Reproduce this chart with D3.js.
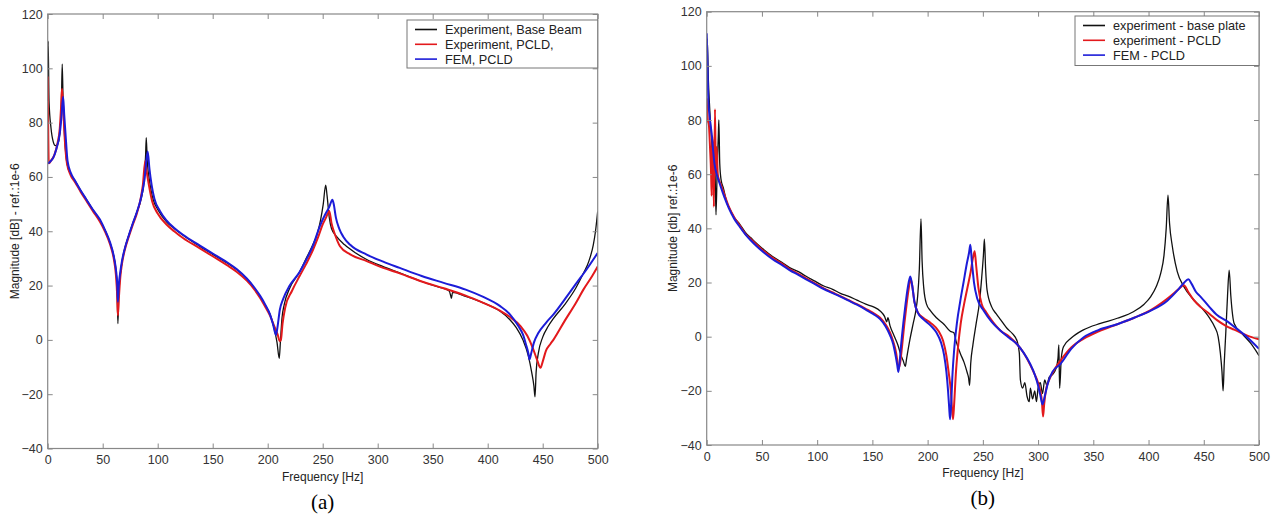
<!DOCTYPE html>
<html>
<head>
<meta charset="utf-8">
<script src="https://cdn.jsdelivr.net/npm/d3@7"></script>
<style>
  body { margin: 0; background: #fff; }
  svg text { font-family: "Liberation Sans", Arial, sans-serif; }
</style>
</head>
<body>
<svg id="chart" width="1282" height="517"></svg>
<script>
// panel (a): beam, [frequency Hz, magnitude dB]
const beamBase = [[0,88],[0.4,110],[1.2,88],[3,78],[5,73],[7,71.5],[9,72],[11,76],[12.5,88],[13.2,101.5],[14,88],[15.5,74],[17.5,65],[21,61],[25,58.5],[30,55],[35,51.8],[41,48],[47.5,44],[52,40.5],[56.6,35.8],[60,31],[62,26],[63,20],[63.8,6],[64.6,16],[66,24],[67.5,28.5],[70,33.5],[73.3,38],[77,42.5],[81,47],[85,52],[87.5,58],[89,68],[89.6,74.5],[90.5,66],[92,60],[94,55],[96,51.5],[100,48],[108,43.5],[115,41],[123,38.5],[138,34.5],[150,31.5],[163,28.3],[172,25.8],[181,22.5],[188,19],[193,16],[198,12.5],[202,9.5],[206,4],[208.5,-1],[210.5,-6.8],[211.5,-1],[213,8],[215,13],[220,19],[229,25],[235,30],[241,35],[245,39],[248,44],[250.5,50],[252.7,57],[254,53],[256,45],[258,41],[262.7,38],[270,35],[280,32],[290,29.6],[305,27],[320,24.7],[340,21.5],[355,19.5],[365,18],[366.5,16],[367,15.3],[368,17.5],[380,16],[396,13.6],[411,10.6],[420,7.5],[426,4.5],[432,0],[437,-6],[440,-12],[442,-17],[443,-21],[444,-12],[446,-5],[450,1],[455,5],[460,8],[470,13],[480,19],[487,24.5],[492,29],[496,35],[498,40],[500,47.3]];
const beamPcld = [[0,97],[0.4,80],[1,65],[3,66],[6,68],[9,72.5],[11,78],[12.2,86],[13,92.5],[14,86],[15.5,74],[17.5,65],[21,60.5],[25,58],[30,54.5],[35,51.3],[41,47.5],[47.5,43.5],[52,40],[56.6,35.3],[60,30],[62,24],[63.2,16],[63.8,9],[64.5,14],[66,23],[67.5,28],[70,33],[73.3,37.5],[77,42],[81,46.5],[84,51],[86.5,57],[88.7,66],[90,62],[92,57],[95,51],[100,46.5],[108,42.5],[115,40],[123,37.5],[138,33.8],[150,30.8],[163,27.5],[172,25],[181,21.8],[188,18.5],[193,15.5],[198,12],[202,9],[206,5],[209,2],[211,-0.5],[212,0],[213.5,6],[216,12],[222,18],[229,23.5],[235,28],[241,33],[246,38],[250,42.5],[253,45],[256,47.5],[258,43],[261,39],[265.7,34.5],[275,31.5],[290,29],[305,26.5],[320,24.5],[340,21.5],[360,19],[380,16.3],[396,13.6],[411,10.8],[420,8.5],[430,5],[436,1.5],[441,-3],[445,-7.5],[448,-10.3],[450,-8],[453,-4],[457,-1.5],[460,0.2],[470,7],[480,13.5],[487,18.5],[495,23.5],[500,27]];
const beamFem = [[0,65],[2,65.5],[5,67],[8,70.5],[11,76],[12.5,82],[14,89.5],[15,83],[16.5,74],[18,66],[21,61.5],[25,58.5],[30,55],[35,51.8],[41,48],[47.5,44.3],[52,40.5],[56.6,36],[60,31],[62,26],[63.3,20],[63.8,14],[64.6,20],[66,25],[67.5,29],[70,33.5],[73.3,38],[77,42.5],[81,47],[85,52.5],[88,59],[90.9,69.4],[92.5,63],[94.5,57],[97,52],[102,47.5],[108,44],[115,41.2],[123,38.7],[138,34.8],[150,31.8],[163,28.6],[172,26],[181,22.6],[188,19.2],[193,16.3],[198,12.8],[202,9.5],[205,5.5],[207.5,1.8],[209,5],[211,11],[214,15],[220,20],[229,25],[235,29.5],[241,34.5],[247.5,42],[252,46],[256,49],[258.8,51.6],[260,50],[262,45],[265,41],[268.7,38],[275,35],[290,31.4],[305,28.8],[320,26.5],[340,23.5],[360,21],[380,18.5],[396,15.8],[411,12.5],[420,9.5],[428,5],[432,2],[435,-2],[437,-5],[438,-7.2],[439.5,-5],[442,-1],[446,2.5],[453,6.3],[460,9.5],[472,16],[480,20.5],[490,26],[500,32]];

// panel (b): plate
const plateBase = [[0,105],[0.5,110],[1.5,95],[2.5,86],[3.5,78],[4.5,72],[5.5,60],[6,66],[7,55],[7.5,62],[8.4,45],[9.5,62],[10.5,74],[11,80],[11.8,64],[13,58],[15,55],[18,50],[21,47],[25,44],[30,41.5],[35,38.5],[40,36.5],[45,34.5],[52,32],[60,29.5],[68,27.5],[75,25.5],[83,24],[90,22.3],[98,20.5],[106,18.7],[114,17.5],[121,16],[128,15],[136,13.5],[144,12],[151,11],[157,9.5],[161,7.5],[163,5.5],[164,7],[166,4],[170,0],[173,-3],[176,-7],[178,-9],[179.8,-11],[181,-8],[184,-1],[187,5],[189.5,10],[191,15],[192.5,25],[194,43.5],[195,28],[196.5,18],[199,12],[202.5,9.6],[208,7],[215,4.5],[220.5,2],[223.6,1.5],[226,-2],[229.6,-6.2],[233,-9.5],[236,-13.5],[237,-15],[238,-18],[239,-10],[241,-3],[244,5],[247,13],[249,22],[250.5,30],[251.4,36],[252.5,25],[253.8,17.3],[258,11],[262,8.5],[266,6.3],[272,3],[277,1],[281,-1.6],[283,-6],[284,-16],[286,-19],[288,-17],[290,-22],[292,-24],[293,-19],[295,-23],[297,-20],[298.5,-24],[300,-19],[302,-17],[304,-21],[306,-16],[308,-18],[310,-15],[313,-14],[316,-12],[318,-8],[318.8,-3],[319.5,-19],[321,-8],[323,-3.7],[330,-0.5],[341,2.5],[356.5,4.9],[371.7,6.8],[386.7,9.3],[396,12],[402,14.8],[407,18.5],[411,23.4],[414,30],[416,40],[417.6,52.3],[419,42],[421.6,33.2],[426,24],[432,18.5],[440,14],[447,11.1],[455,7],[460,3.5],[463,0],[465,-6],[466.5,-13],[467.5,-20],[468.5,-10],[470,2],[471.5,15],[473,24.6],[474.5,15],[477.5,4.9],[485,1],[492.6,-2.5],[500,-7]];
const platePcld = [[0,88],[1,80],[2,78],[3,70],[4,60],[4.5,52],[5,74],[6,65],[6.5,48],[7.5,84],[8.3,60],[9,70],[10,60],[11,58],[13,56],[16,52.5],[20,48],[25,44],[30,41],[35,38],[40,36],[45,34],[52,31.5],[60,29],[68,27],[75,25],[83,23.2],[90,21.5],[98,19.7],[106,17.8],[114,16.3],[121,15],[128,13.6],[136,12],[144,10.3],[151,8.7],[157,7],[162,4.5],[166,1.5],[169,-2],[171.5,-6],[173,-10],[174,-11.5],[175,-10],[177,-3],[179,5],[181,12],[183,18],[184.5,21.5],[186,19],[188,13],[191,9],[196,7],[203,5],[210,2],[214,-1.5],[217,-7],[219,-13],[221,-20],[222,-26],[223,-30.5],[224,-25],[225.5,-14],[227.5,-4],[230,5],[233,12],[236,18],[239,24],[241,29],[242.6,31.5],[244,26],[246,18],[249,12],[253,9],[258,6],[266,2.2],[274,0],[281,-2.8],[287,-6],[293,-10.5],[297,-14],[300,-17],[302,-20],[303.5,-24],[304.5,-29.5],[305.5,-25],[307,-20],[310,-16],[315,-12],[320,-9],[330,-4],[341,-0.8],[355,2],[371.7,4.6],[387,7],[402,9.8],[412,12.5],[420,15],[427,17.5],[432,19],[436,16.5],[441,13.5],[447,11],[455,8.5],[462,6.1],[470,4],[477.5,2.6],[490,0.3],[500,-1]];
const plateFem = [[0,112],[0.5,105],[1.5,87],[3,80],[4.5,75],[6,68],[7,64],[9,60],[11,57.5],[13,55],[16,51.5],[20,47.5],[25,43.5],[30,40.5],[35,37.8],[40,35.5],[45,33.5],[52,31],[60,28.5],[68,26.5],[75,24.6],[83,22.8],[90,21.2],[98,19.4],[106,17.6],[114,16.1],[121,14.8],[128,13.4],[136,11.8],[144,10],[151,8.3],[157,6.5],[162,3.8],[166,0.5],[169,-3],[171,-7],[172.5,-10.5],[173.5,-13],[174.5,-10],[176,-3],[178,5],[180,12],[182,18],[184.3,22.2],[186,19],[188,13],[191,9],[196,6.5],[203,4],[208,1.5],[212,-2],[215,-7],[217,-13],[218.5,-20],[219.5,-26],[220.3,-30.5],[221.3,-25],[222.5,-14],[224,-5],[226.5,5],[229.5,13],[232.5,20],[235.5,27],[237.5,31],[238.7,33.9],[240,28],[242,20],[245,14],[250.8,9.6],[258,5.5],[266,2.2],[274,-0.5],[281,-2.8],[287,-6],[293,-10.2],[297,-14],[300,-18],[302,-21.5],[304,-25],[306,-22],[309,-17],[313,-13],[320,-10.2],[330,-4.5],[341,-0.3],[355,2.5],[371.7,4.6],[387,7],[402,9.6],[417,13.3],[426,17],[432,19.8],[436,21.2],[439,19.5],[443,16.5],[447,14.8],[455,11],[462,8],[470,6],[477.5,3.7],[490,-0.5],[500,-4.5]];

const xTicks = [0, 50, 100, 150, 200, 250, 300, 350, 400, 450, 500];
const yTicks = [-40, -20, 0, 20, 40, 60, 80, 100, 120];
const beamNames = ["Experiment, Base Beam", "Experiment, PCLD,", "FEM, PCLD"];
const plateNames = ["experiment - base plate", "experiment - PCLD", "FEM - PCLD"];
const colors = ["#111", "#e3191c", "#1c1cd8"];
const widths = [1.3, 2, 2];

const svg = d3.select("#chart");

function drawPanel(p) {
  const x = d3.scaleLinear().domain([0, 500]).range([p.left, p.right]);
  const y = d3.scaleLinear().domain([-40, 120]).range([p.bottom, p.top]);
  const g = svg.append("g");

  const clipId = "clip-" + p.id;
  g.append("clipPath").attr("id", clipId)
    .append("rect")
    .attr("x", p.left).attr("y", p.top)
    .attr("width", p.right - p.left).attr("height", p.bottom - p.top);

  const line = d3.line()
    .x((d) => x(d[0]))
    .y((d) => y(d[1]))
    .curve(d3.curveMonotoneX);

  g.append("g").attr("clip-path", `url(#${clipId})`)
    .selectAll("path")
    .data(p.series)
    .enter()
    .append("path")
    .attr("d", (d) => line(d))
    .attr("fill", "none")
    .attr("stroke", (d, i) => colors[i])
    .attr("stroke-width", (d, i) => widths[i])
    .attr("stroke-linejoin", "round");

  const axisStyle = (sel) => {
    sel.select(".domain").remove();
    sel.selectAll(".tick line").attr("stroke", "#888");
    sel.selectAll(".tick text").attr("fill", "#333").style("font-size", "12.5px");
  };

  g.append("g").attr("transform", `translate(0,${p.bottom})`)
    .call(d3.axisBottom(x).tickValues(xTicks).tickSize(-5).tickPadding(7))
    .call(axisStyle);
  g.append("g").attr("transform", `translate(0,${p.top})`)
    .call(d3.axisTop(x).tickValues(xTicks).tickSize(-5).tickFormat(""))
    .call(axisStyle);
  g.append("g").attr("transform", `translate(${p.left},0)`)
    .call(d3.axisLeft(y).tickValues(yTicks).tickSize(-5).tickPadding(5))
    .call(axisStyle);
  g.append("g").attr("transform", `translate(${p.right},0)`)
    .call(d3.axisRight(y).tickValues(yTicks).tickSize(-5).tickFormat(""))
    .call(axisStyle);

  g.append("rect")
    .attr("x", p.left).attr("y", p.top)
    .attr("width", p.right - p.left).attr("height", p.bottom - p.top)
    .attr("fill", "none").attr("stroke", "#888").attr("stroke-width", 1.2);

  // legend box
  const lg = g.append("g");
  lg.append("rect")
    .attr("x", p.legX).attr("y", p.legY)
    .attr("width", p.right - p.legX).attr("height", p.legH)
    .attr("fill", "#fff").attr("stroke", "#777").attr("stroke-width", 1);
  const row = lg.selectAll("g.row").data(p.names).enter().append("g")
    .attr("class", "row")
    .attr("transform", (d, i) => `translate(${p.legX + 8},${p.legY + 9.5 + i * 14.8})`);
  row.append("line")
    .attr("x1", 0).attr("x2", 22)
    .attr("stroke", (d, i) => colors[i])
    .attr("stroke-width", 1.6);
  row.append("text")
    .attr("x", 30).attr("dy", "0.35em")
    .style("font-size", "12.7px").attr("fill", "#222")
    .text((d) => d);

  g.append("text")
    .attr("x", (p.left + p.right) / 2).attr("y", p.bottom + 28)
    .attr("text-anchor", "middle").attr("dy", "0.35em")
    .style("font-size", "12px").attr("fill", "#222")
    .text("Frequency [Hz]");

  g.append("text")
    .attr("transform", `translate(${p.yLabelX},${(p.top + p.bottom) / 2}) rotate(-90)`)
    .attr("text-anchor", "middle").attr("dy", "0.35em")
    .style("font-size", "12px").attr("fill", "#222")
    .text(p.yLabel);

  g.append("text")
    .attr("x", (p.left + p.right) / 2).attr("y", p.bottom + 53)
    .attr("text-anchor", "middle").attr("dy", "0.35em")
    .style("font-family", "'Liberation Serif', 'Times New Roman', serif")
    .style("font-size", "21px").attr("fill", "#000")
    .text(p.caption);
}

drawPanel({
  id: "a", left: 47.7, right: 597.7, top: 14, bottom: 448.5,
  series: [beamBase, beamPcld, beamFem], names: beamNames,
  legX: 407, legY: 20, legH: 48,
  yLabel: "Magnitude [dB] - ref.:1e-6", yLabelX: 15, caption: "(a)"
});

drawPanel({
  id: "b", left: 706.7, right: 1259, top: 11.7, bottom: 445,
  series: [plateBase, platePcld, plateFem], names: plateNames,
  legX: 1075, legY: 16, legH: 49.5,
  yLabel: "Magnitude [db] ref.:1e-6", yLabelX: 673, caption: "(b)"
});
</script>
</body>
</html>
